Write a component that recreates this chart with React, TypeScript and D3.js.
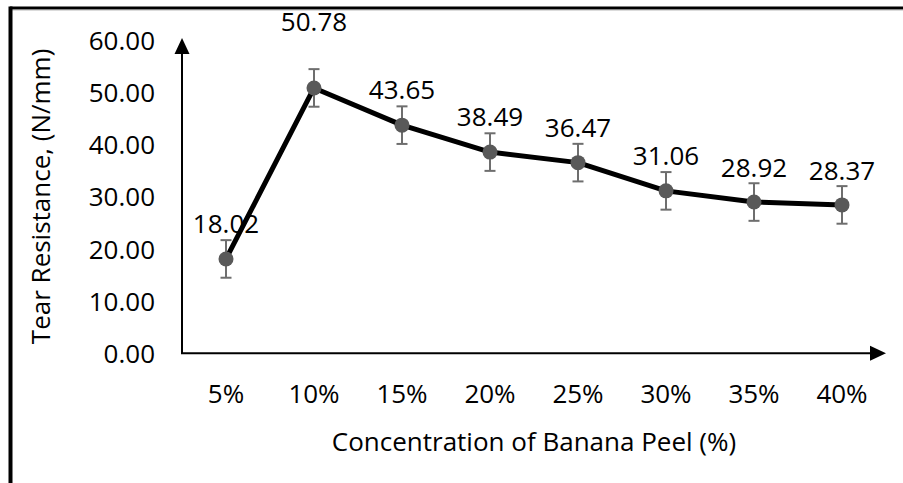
import React from "react";
import * as d3 from "d3";

const categories = ["5%", "10%", "15%", "20%", "25%", "30%", "35%", "40%"];
const tearResistance = [18.02, 50.78, 43.65, 38.49, 36.47, 31.06, 28.92, 28.37];
const errorValues = [3.6, 3.6, 3.6, 3.6, 3.6, 3.6, 3.6, 3.6];
const yTicks = [0, 10, 20, 30, 40, 50, 60];
const labelLift = [36, 67, 36, 36, 36, 36, 35, 35];

const W = 903;
const H = 483;
const FONT = "'Open Sans', 'Noto Sans', sans-serif";

export default function App() {
  const x = d3.scaleBand<string>().domain(categories).range([182, 886]);
  const y = d3.scaleLinear().domain([0, 60]).range([353, 39.8]);
  const line = d3
    .line<number>()
    .x((_, i) => (x(categories[i]) as number) + x.bandwidth() / 2)
    .y((d) => y(d));
  const cx = (i: number) => (x(categories[i]) as number) + x.bandwidth() / 2;
  const fs = 26;
  return (
    <svg
      width={W}
      height={H}
      style={{ position: "absolute", left: 0, top: 0, background: "#fff" }}
      fontFamily={FONT}
    >
      {/* frame */}
      <line x1={10} y1={8} x2={W} y2={8} stroke="#000" strokeWidth={3} />
      <line x1={10} y1={9.8} x2={W} y2={9.8} stroke="#888" strokeWidth={1} />
      <line x1={10.5} y1={6.5} x2={10.5} y2={H} stroke="#000" strokeWidth={4} />

      {/* axes */}
      <line x1={182} y1={354} x2={182} y2={50} stroke="#000" strokeWidth={2} />
      <path d="M182,38 L174.5,54 L189.5,54 Z" fill="#000" />
      <line x1={181} y1={353.3} x2={872} y2={353.3} stroke="#000" strokeWidth={2} />
      <path d="M886,353.3 L870,345.8 L870,360.8 Z" fill="#000" />

      {/* y tick labels */}
      {yTicks.map((t) => (
        <text
          key={t}
          x={155}
          y={y(t)}
          textAnchor="end"
          dominantBaseline="central"
          fontSize={fs}
          fill="#000"
        >
          {t.toFixed(2)}
        </text>
      ))}

      {/* x tick labels */}
      {categories.map((c, i) => (
        <text
          key={c}
          x={cx(i)}
          y={393}
          textAnchor="middle"
          dominantBaseline="central"
          fontSize={fs}
          fill="#000"
        >
          {c}
        </text>
      ))}

      {/* axis titles */}
      <text
        x={534}
        y={441}
        textAnchor="middle"
        dominantBaseline="central"
        fontSize={fs}
        fill="#000"
      >
        Concentration of Banana Peel (%)
      </text>
      <text
        transform={`translate(40,${(y(0) + y(60)) / 2}) rotate(-90)`}
        textAnchor="middle"
        dominantBaseline="central"
        fontSize={fs}
        fill="#000"
      >
        Tear Resistance, (N/mm)
      </text>

      {/* line */}
      <path
        d={line(tearResistance) as string}
        fill="none"
        stroke="#000"
        strokeWidth={5}
        strokeLinejoin="round"
      />

      {/* error bars */}
      {tearResistance.map((v, i) => {
        const xc = cx(i);
        const y1 = y(v + errorValues[i]);
        const y2 = y(v - errorValues[i]);
        return (
          <g key={i} stroke="#6e6e6e" strokeWidth={2}>
            <line x1={xc} x2={xc} y1={y1} y2={y2} />
            <line x1={xc - 5.5} x2={xc + 5.5} y1={y1} y2={y1} />
            <line x1={xc - 5.5} x2={xc + 5.5} y1={y2} y2={y2} />
          </g>
        );
      })}

      {/* markers */}
      {tearResistance.map((v, i) => (
        <circle key={i} cx={cx(i)} cy={y(v)} r={7.5} fill="#595959" />
      ))}

      {/* data labels */}
      {tearResistance.map((v, i) => (
        <text
          key={i}
          x={cx(i)}
          y={y(v) - labelLift[i]}
          textAnchor="middle"
          dominantBaseline="central"
          fontSize={fs}
          fill="#000"
        >
          {v.toFixed(2)}
        </text>
      ))}
    </svg>
  );
}
